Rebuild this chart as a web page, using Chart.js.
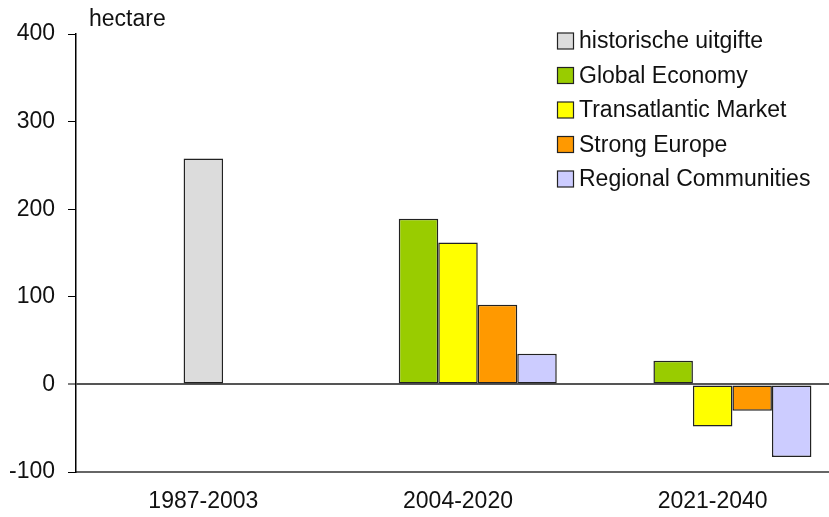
<!DOCTYPE html>
<html lang="nl">
<head>
  <meta charset="UTF-8" />
  <title>Uitgifte bedrijventerrein (hectare)</title>
  <script src="https://cdn.jsdelivr.net/npm/chart.js"></script>
  <style>
    html, body {
      margin: 0;
      padding: 0;
      background: #fff;
      overflow: hidden;
    }
    canvas {
      display: block;
    }
  </style>
</head>
<body>
  <canvas id="chart" width="840" height="517"></canvas>

  <script>
    const periods = ["1987-2003", "2004-2020", "2021-2040"];
    const yTicks = [-100, 0, 100, 200, 300, 400];

    // historic series only has a value in the first period; 0 keeps its (empty) slot later on
    const historisch = [258, 0, 0];
    const globalEconomy = [null, 189, 27];
    const transatlanticMarket = [null, 162, -48];
    const strongEurope = [null, 91, -30];
    const regionalCommunities = [null, 35, -83];

    const FONT = "'Liberation Sans', Arial, sans-serif";

    // legend drawn top right inside the plot, like the original
    const legendPlugin = {
      id: "boxLegend",
      afterDraw(chart) {
        const c = chart.ctx;
        c.save();
        c.font = "23px " + FONT;
        c.textBaseline = "middle";
        chart.data.datasets.forEach((ds, i) => {
          const y = 41 + i * 34.5;
          c.fillStyle = ds.backgroundColor;
          c.fillRect(557.5, y - 8, 16, 16);
          c.strokeStyle = "#222";
          c.lineWidth = 1.2;
          c.strokeRect(557.5, y - 8, 16, 16);
          c.fillStyle = "#111";
          c.fillText(ds.label, 579, y + 1);
        });
        // unit label
        c.fillText("hectare", 89, 20);
        c.restore();
      }
    };

    const barStyle = {
      borderColor: "#222",
      borderWidth: 1.5,
      borderSkipped: false,
      inflateAmount: 0,
      barThickness: 39.5
    };

    const ctx = document.getElementById("chart").getContext("2d");
    new Chart(ctx, {
      type: "bar",
      data: {
        labels: periods,
        datasets: [
          { label: "historische uitgifte", data: historisch, backgroundColor: "#dcdcdc", ...barStyle },
          { label: "Global Economy", data: globalEconomy, backgroundColor: "#99cc00", ...barStyle },
          { label: "Transatlantic Market", data: transatlanticMarket, backgroundColor: "#ffff00", ...barStyle },
          { label: "Strong Europe", data: strongEurope, backgroundColor: "#ff9900", ...barStyle },
          { label: "Regional Communities", data: regionalCommunities, backgroundColor: "#ccccff", ...barStyle }
        ]
      },
      options: {
        responsive: false,
        animation: false,
        devicePixelRatio: 1,
        skipNull: true,
        layout: { padding: { top: 34, left: 0, right: 0, bottom: 0 } },
        plugins: {
          legend: { display: false },
          tooltip: { enabled: false }
        },
        scales: {
          x: {
            grid: { display: true, color: "transparent", drawTicks: false },
            border: { display: true, color: "#666", width: 2 },
            ticks: {
              color: "#111",
              font: { family: FONT, size: 23 },
              padding: 16
            },
            afterFit(scale) { scale.height = 45; }
          },
          y: {
            min: yTicks[0],
            max: yTicks[yTicks.length - 1],
            afterBuildTicks(scale) {
              scale.ticks = yTicks.map(v => ({ value: v }));
            },
            grid: {
              color: c => (c.tick && c.tick.value === 0 ? "#555" : "transparent"),
              lineWidth: c => (c.tick && c.tick.value === 0 ? 2 : 1),
              drawTicks: true,
              tickLength: 8,
              tickColor: "#000",
              tickWidth: 1
            },
            border: { display: true, color: "#000", width: 1.5 },
            ticks: {
              color: "#111",
              font: { family: FONT, size: 23 },
              padding: 13
            },
            afterFit(scale) { scale.width = 76; }
          }
        }
      },
      plugins: [legendPlugin]
    });
  </script>
</body>
</html>
